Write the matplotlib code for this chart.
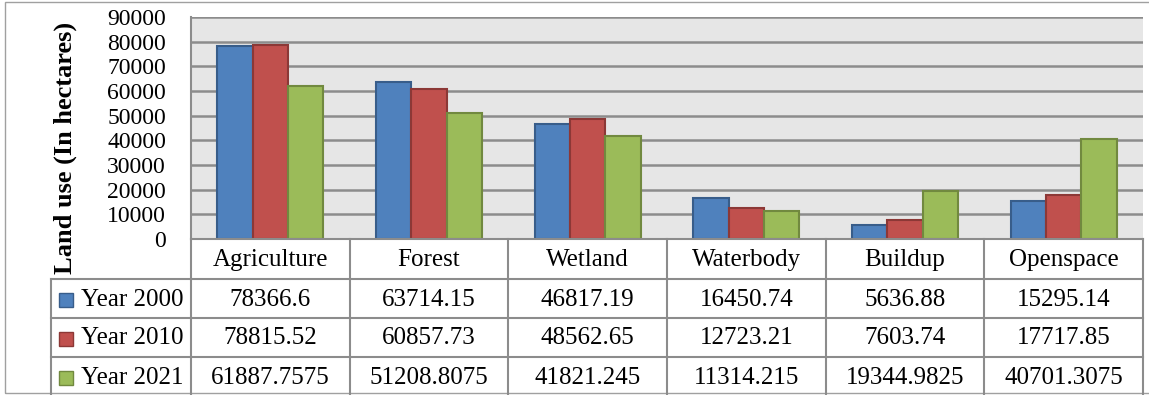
import matplotlib.pyplot as plt
import matplotlib.transforms as mtransforms
from matplotlib.lines import Line2D
from matplotlib.patches import Rectangle

plt.rcParams['font.family'] = ['Liberation Serif', 'DejaVu Serif']

categories = ['Agriculture', 'Forest', 'Wetland', 'Waterbody', 'Buildup', 'Openspace']
series_names = ['Year 2000', 'Year 2010', 'Year 2021']
year_2000 = [78366.6, 63714.15, 46817.19, 16450.74, 5636.88, 15295.14]
year_2010 = [78815.52, 60857.73, 48562.65, 12723.21, 7603.74, 17717.85]
year_2021 = [61887.7575, 51208.8075, 41821.245, 11314.215, 19344.9825, 40701.3075]
value_labels = [
    ['78366.6', '63714.15', '46817.19', '16450.74', '5636.88', '15295.14'],
    ['78815.52', '60857.73', '48562.65', '12723.21', '7603.74', '17717.85'],
    ['61887.7575', '51208.8075', '41821.245', '11314.215', '19344.9825', '40701.3075'],
]
y_ticks = [0, 10000, 20000, 30000, 40000, 50000, 60000, 70000, 80000, 90000]

fills = ['#4F81BD', '#C0504D', '#9BBB59']
edges = ['#385D8A', '#8C3836', '#71893F']
line_grey = '#8c8c8c'

W, H = 1149, 395


def fx(x):
    return x / W


def fy(y):
    return 1 - y / H


fig = plt.figure(figsize=(W / 100, H / 100), dpi=100)
ax = fig.add_axes([fx(191), fy(239), fx(1143) - fx(191), fy(17) - fy(239)])
ax.set_facecolor('#e6e6e6')

series = [year_2000, year_2010, year_2021]
bw = 1 / 4.5
for j, vals in enumerate(series):
    xs = [i + (j - 1) * bw for i in range(len(categories))]
    ax.bar(xs, vals, width=bw, color=fills[j], edgecolor=edges[j], linewidth=1.5, zorder=3)

ax.set_xlim(-0.5, len(categories) - 0.5)
ax.set_ylim(0, 90000)
ax.set_yticks(y_ticks)
ax.set_yticklabels([str(t) for t in y_ticks], fontsize=17)
ax.tick_params(axis='y', length=0, pad=18)
ax.set_xticks([])
ax.grid(axis='y', color=line_grey, linewidth=1.8, zorder=1)
for s in ['top', 'right', 'bottom']:
    ax.spines[s].set_visible(False)
ax.spines['left'].set_color(line_grey)
ax.spines['left'].set_linewidth(1.5)

fig.text(fx(65), fy(148), 'Land use (In hectares)', rotation=90, fontsize=19,
         fontweight='bold', ha='center', va='center')

# data table under the plot: x in data units, y in figure units
tr = mtransforms.blended_transform_factory(ax.transData, fig.transFigure)
n = len(categories)
row_edges = [239, 279, 318, 357, 396]
tsize = 18

def hline(x0, x1, y, transform):
    fig.add_artist(Line2D([x0, x1], [fy(y), fy(y)], transform=transform,
                          color=line_grey, linewidth=1.5))

hline(-0.5, n - 0.5, row_edges[0], tr)
for y in row_edges[1:4]:
    fig.add_artist(Line2D([fx(51), fx(191)], [fy(y), fy(y)], transform=fig.transFigure,
                          color=line_grey, linewidth=1.5))
    hline(-0.5, n - 0.5, y, tr)

for k in range(n + 1):
    fig.add_artist(Line2D([k - 0.5, k - 0.5], [fy(239), fy(396)], transform=tr,
                          color=line_grey, linewidth=1.5))
fig.add_artist(Line2D([fx(51), fx(51)], [fy(279), fy(396)], transform=fig.transFigure,
                      color=line_grey, linewidth=1.5))

for i, c in enumerate(categories):
    fig.text(i, fy((row_edges[0] + row_edges[1]) / 2 + 1), c, transform=tr,
             fontsize=tsize, ha='center', va='center')

for r, name in enumerate(series_names):
    yc = fy((row_edges[r + 1] + row_edges[r + 2]) / 2 + 1)
    fig.add_artist(Rectangle((fx(59), yc - 7 / H), 14 / W, 14 / H, transform=fig.transFigure,
                             facecolor=fills[r], edgecolor=edges[r], linewidth=1))
    fig.text(fx(81), yc, name, fontsize=tsize, ha='left', va='center')
    for i in range(n):
        fig.text(i, yc, value_labels[r][i], transform=tr, fontsize=tsize,
                 ha='center', va='center')

# outer chart frame
fig.add_artist(Rectangle((fx(5), fy(393)), 1.0, fy(2) - fy(393), transform=fig.transFigure,
                         fill=False, edgecolor='#a0a0a0', linewidth=1))

fig.savefig('out.png', dpi=100)
